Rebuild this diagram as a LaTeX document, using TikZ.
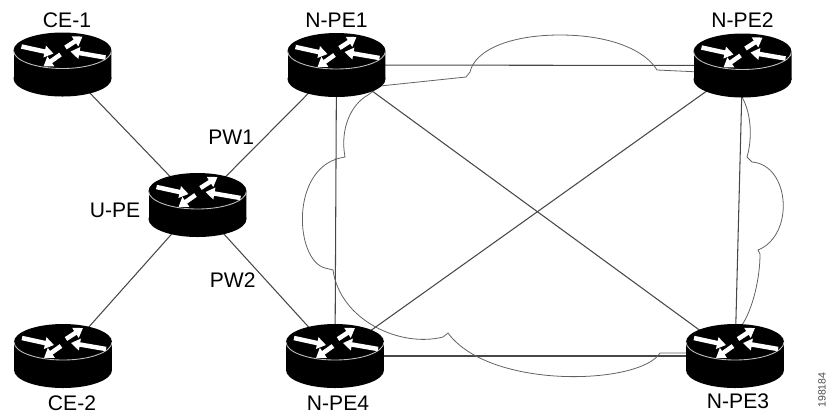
\documentclass[tikz,border=0pt]{standalone}
\usepackage{fontspec}
\setmainfont{Liberation Sans}
\usetikzlibrary{arrows.meta, calc, positioning}
\pgfdeclarelayer{background}
\pgfsetlayers{background,main}
\newcommand{\routericon}{%
  \begin{scope}[shift={(path picture bounding box.center)}]
    \fill (-49,-14) rectangle (49,14);
    \fill (0,14) ellipse [x radius=49, y radius=18];
    \fill (0,-14) ellipse [x radius=49, y radius=18];
    \draw[black!25, line width=0.5pt] (-49,-14) arc [start angle=180, end angle=0, x radius=49, y radius=18];
    \draw[flow] (-41,-18) -- (-9,-11);
    \draw[flow] (43,-7) -- (8,-13);
    \draw[flow] (3,-17) -- (20,-28);
    \draw[flow] (-2,-10) -- (-19,2);
  \end{scope}}
\tikzset{
  router/.style = {minimum width=1.96cm, minimum height=1.28cm, inner sep=0pt, path picture={\routericon}},
  flow/.style = {white, line width=0.09cm, -{Triangle[width=0.23cm, length=0.18cm]}},
  link/.style = {draw=black!72, line width=0.6pt},
  cloudline/.style = {draw=black!62, line width=0.45pt},
  lbl/.style = {font=\fontsize{12}{12}\selectfont, inner sep=0pt}
}

\begin{document}
\begin{tikzpicture}[x=0.02cm, y=-0.02cm]
  \useasboundingbox (0,0) rectangle (830,414);
  \node[router] (ce1) at (62.5,64.5) {};
  \node[router] (upe) at (197.5,205) {};
  \node[router] (npe1) at (336.5,65) {};
  \node[router] (npe2) at (742.5,65.5) {};
  \node[router] (ce2) at (63,356) {};
  \node[router] (npe4) at (335,356) {};
  \node[router] (npe3) at (735,356) {};

  \node[lbl, above=0.09cm of ce1, xshift=0.09cm] {CE-1};
  \node[lbl, above=0.1cm of npe1] {N-PE1};
  \node[lbl, above=0.1cm of npe2] {N-PE2};
  \node[lbl, left=0.15cm of upe, yshift=-0.1cm] {U-PE};
  \node[lbl, below=0.14cm of ce2, xshift=0.18cm] {CE-2};
  \node[lbl, below=0.14cm of npe4, xshift=0.06cm] {N-PE4};
  \node[lbl, below=0.1cm of npe3, xshift=0.06cm] {N-PE3};
  \node[font=\fontsize{6}{6}\selectfont, text=black!70, rotate=90, inner sep=0pt] (fig) at (822,390) {198184};

  \begin{pgfonlayer}{background}
    \draw[link] (ce1.center) -- (upe.center);
    \draw[link] (ce2.center) -- (upe.center);
    \draw[link] (upe.center) -- node[lbl, pos=0.42, above left=1pt] {PW1} (npe1.center);
    \draw[link] (upe.center) -- node[lbl, pos=0.435, below left=1pt] {PW2} (npe4.center);
    \draw[link] (npe1.center) -- (npe2.center);
    \draw[link] (npe1.center) -- (npe4.center);
    \draw[link] (npe1.center) -- (npe3.center);
    \draw[link] (npe2.center) -- (npe4.center);
    \draw[link] (npe2.center) -- (npe3.center);
    \draw[link] (npe4.center) -- (npe3.center);
    \draw[cloudline] (380,86) -- (466,77) -- (470,72)
      .. controls (475,50) and (510,35) .. (560,35)
      .. controls (610,35) and (645,50) .. (657,70) -- (700,72)
      -- (742,97) .. controls (752,115) and (752,140) .. (747,157) -- (752,162)
      .. controls (790,165) and (795,235) .. (758,250) -- (760,254)
      .. controls (760,280) and (752,310) .. (742,325)
      -- (690,353) -- (660,353)
      .. controls (640,385) and (490,390) .. (448,333) -- (443,337)
      .. controls (400,348) and (340,320) .. (333,270) -- (325,268)
      .. controls (295,260) and (290,170) .. (340,158) -- (345,157)
      .. controls (340,130) and (350,105) .. (368,95) -- cycle;
  \end{pgfonlayer}
\end{tikzpicture}
\end{document}
